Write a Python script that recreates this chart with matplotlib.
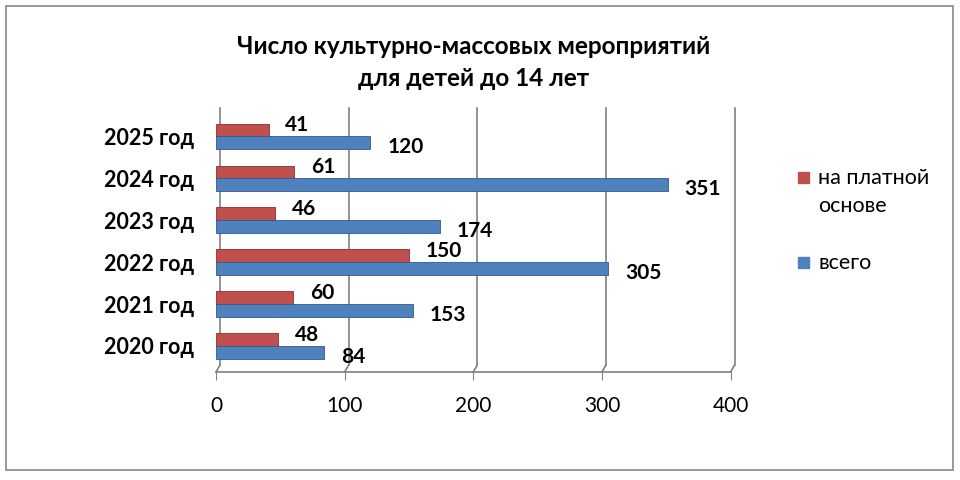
import matplotlib.pyplot as plt
import matplotlib.transforms as mtransforms
import numpy as np
from matplotlib.patches import Rectangle

plt.rcParams['font.family'] = ['Lato', 'DejaVu Sans']

# --- data ---
years = ['2020 год', '2021 год', '2022 год', '2023 год', '2024 год', '2025 год']
paid = [48, 60, 150, 46, 61, 41]
total = [84, 153, 305, 174, 351, 120]
xticks = [0, 100, 200, 300, 400]
legend_labels = ['на платной\nоснове', 'всего']

fig = plt.figure(figsize=(9.6, 4.8), dpi=100)
ax = fig.add_axes([0.225, 0.225, 0.536, 0.55])

y = np.arange(len(years))
h = 0.3
red = '#C0504D'
blue = '#4F81BD'
grid_c = '#808080'

ax.barh(y + h / 2, paid, height=h, color=red, edgecolor='#8B2E2B',
        linewidth=0.6, zorder=3)
ax.barh(y - h / 2, total, height=h, color=blue, edgecolor='#2F5A8C',
        linewidth=0.6, zorder=3)

for yi, p, t in zip(y, paid, total):
    ax.text(p + 13, yi + h / 2 + 0.12, str(p), fontsize=15, fontweight='bold',
            ha='left', va='center')
    ax.text(t + 13, yi - h / 2 - 0.12, str(t), fontsize=15, fontweight='bold',
            ha='left', va='center')

ax.set_xlim(0, 400)
ax.set_ylim(-0.62, 5.67)
ax.set_xticks(xticks)
ax.set_xticklabels([str(v) for v in xticks], fontsize=15)
ax.set_yticks(y)
ax.set_yticklabels(years, fontsize=15.5, fontweight='bold')
ax.tick_params(axis='y', length=0, pad=16)
ax.tick_params(axis='x', length=6, color=grid_c, pad=11)

# pseudo-3D walls: gridlines shifted right, slanting down to the ticks
dx, dy = 4, 7  # pixels
foot = dy / (0.55 * 480)
blend = mtransforms.blended_transform_factory(ax.transData, ax.transAxes)
shift = blend + mtransforms.ScaledTranslation(dx / 100, 0, fig.dpi_scale_trans)
for v in xticks:
    ax.plot([v, v], [foot, 1.0], transform=shift, color=grid_c, lw=1.2,
            zorder=1, clip_on=False)
    ax.annotate('', xy=(v, 0.0), xycoords=blend,
                xytext=(dx * 0.72, dy * 0.72), textcoords='offset points',
                arrowprops=dict(arrowstyle='-', color=grid_c, lw=1.2,
                                shrinkA=0, shrinkB=0))

for s in ['top', 'right', 'left']:
    ax.spines[s].set_visible(False)
ax.spines['bottom'].set_color(grid_c)
ax.spines['bottom'].set_linewidth(1.2)

ax.set_title('Число культурно-массовых мероприятий\nдля детей до 14 лет',
             fontsize=17.5, fontweight='bold', pad=16, linespacing=1.45)

# legend drawn by hand to get Excel's layout
fig.patches.append(Rectangle((798 / 960, 1 - 183 / 480), 11 / 960, 11 / 480,
                             transform=fig.transFigure, color=red))
fig.patches.append(Rectangle((798 / 960, 1 - 268 / 480), 11 / 960, 11 / 480,
                             transform=fig.transFigure, color=blue))
fig.text(818 / 960, 1 - 192 / 480, legend_labels[0], fontsize=15.5, ha='left',
         va='center', linespacing=1.55)
fig.text(818 / 960, 1 - 263 / 480, legend_labels[1], fontsize=15.5, ha='left',
         va='center')

fig.patches.append(Rectangle((0.006, 0.021), 0.987, 0.966, transform=fig.transFigure,
                             fill=False, edgecolor='#888888', linewidth=1.2))

fig.savefig('out.png', dpi=100)
